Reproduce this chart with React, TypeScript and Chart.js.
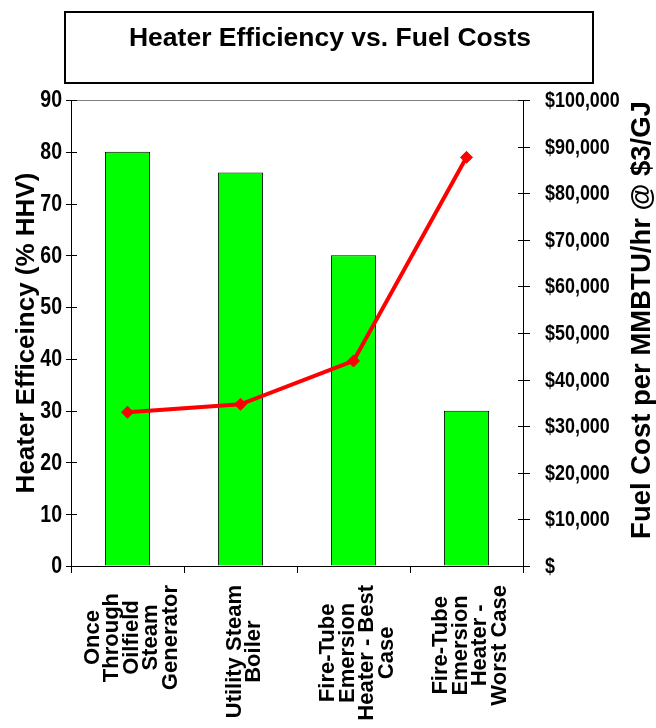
import React, { useEffect, useRef } from 'react';
import { Chart, registerables } from 'chart.js';

Chart.register(...registerables);

const title = 'Heater Efficiency vs. Fuel Costs';
const leftAxisTitle = 'Heater Efficeincy (% HHV)';
const rightAxisTitle = 'Fuel Cost per MMBTU/hr @ $3/GJ';

const categories: string[][] = [
  ['Once', 'Through', 'Oilfield', 'Steam', 'Generator'],
  ['Utility Steam', 'Boiler'],
  ['Fire-Tube', 'Emersion', 'Heater - Best', 'Case'],
  ['Fire-Tube', 'Emersion', 'Heater -', 'Worst Case'],
];
const efficiency = [80, 76, 60, 30];
const fuelCost = [33000, 34700, 44000, 87700];

const effMin = 0;
const effMax = 90;
const effStep = 10;
const costMin = 0;
const costMax = 100000;
const costStep = 10000;

const SANS = "'Liberation Sans', Arial, Helvetica, sans-serif";

const costLabel = (v: number) => (v === 0 ? '$' : '$' + v.toLocaleString('en-US'));

const decorPlugin = {
  id: 'decor',
  afterDraw(chart: any) {
    const ctx = chart.ctx as CanvasRenderingContext2D;
    const { chartArea } = chart;
    const xs = chart.scales.x;
    const yl = chart.scales.y;
    const yr = chart.scales.y1;
    ctx.save();

    // title box
    ctx.strokeStyle = '#000';
    ctx.lineWidth = 2;
    ctx.strokeRect(65, 12, 528, 71);
    ctx.fillStyle = '#000';
    ctx.font = `bold 26.5px ${SANS}`;
    ctx.textAlign = 'center';
    ctx.textBaseline = 'middle';
    ctx.fillText(title, 330, 39);

    // top border line (gray)
    ctx.strokeStyle = '#808080';
    ctx.lineWidth = 1;
    ctx.beginPath();
    ctx.moveTo(chartArea.left, chartArea.top + 0.5);
    ctx.lineTo(chartArea.right, chartArea.top + 0.5);
    ctx.stroke();

    // crossing tick marks
    ctx.strokeStyle = '#000';
    ctx.beginPath();
    for (let v = effMin; v <= effMax; v += effStep) {
      const y = Math.round(yl.getPixelForValue(v)) + 0.5;
      ctx.moveTo(chartArea.left - 5, y);
      ctx.lineTo(chartArea.left + 6, y);
    }
    for (let v = costMin; v <= costMax; v += costStep) {
      const y = Math.round(yr.getPixelForValue(v)) + 0.5;
      ctx.moveTo(chartArea.right - 5, y);
      ctx.lineTo(chartArea.right + 7, y);
    }
    const n = categories.length;
    const w = (chartArea.right - chartArea.left) / n;
    for (let i = 0; i <= n; i++) {
      const x = Math.round(chartArea.left + i * w) + 0.5;
      ctx.moveTo(x, chartArea.bottom);
      ctx.lineTo(x, chartArea.bottom + 7);
    }
    ctx.stroke();

    // condensed tick labels
    ctx.fillStyle = '#000';
    ctx.textBaseline = 'middle';
    ctx.font = `bold 23px ${SANS}`;
    for (let v = effMin; v <= effMax; v += effStep) {
      const y = yl.getPixelForValue(v) + 1;
      ctx.save();
      ctx.translate(62, y);
      ctx.scale(0.85, 1);
      ctx.textAlign = 'right';
      ctx.fillText(String(v), 0, 0);
      ctx.restore();
    }
    ctx.font = `bold 22px ${SANS}`;
    for (let v = costMin; v <= costMax; v += costStep) {
      const y = yr.getPixelForValue(v) + 1;
      ctx.save();
      ctx.translate(545, y);
      ctx.scale(0.815, 1);
      ctx.textAlign = 'left';
      ctx.fillText(costLabel(v), 0, 0);
      ctx.restore();
    }

    // category labels (rotated, centered lines)
    ctx.font = `bold 22px ${SANS}`;
    const lh = 19.5;
    categories.forEach((lines, i) => {
      const cx = xs.getPixelForValue(i) + 4;
      const maxW = Math.max(...lines.map((l) => ctx.measureText(l).width));
      const cy = 585 + maxW / 2;
      ctx.save();
      ctx.translate(cx, cy);
      ctx.rotate(-Math.PI / 2);
      ctx.textAlign = 'center';
      ctx.textBaseline = 'middle';
      lines.forEach((l, j) => {
        ctx.fillText(l, 0, (j - (lines.length - 1) / 2) * lh);
      });
      ctx.restore();
    });

    // left axis title
    ctx.save();
    ctx.font = `bold 26px ${SANS}`;
    ctx.translate(27, 333);
    ctx.rotate(-Math.PI / 2);
    ctx.textAlign = 'center';
    ctx.textBaseline = 'middle';
    ctx.fillText(leftAxisTitle, 0, 0);
    ctx.restore();

    // right axis title
    ctx.save();
    ctx.font = `bold 27.5px ${SANS}`;
    ctx.translate(642, 320);
    ctx.rotate(-Math.PI / 2);
    ctx.textAlign = 'center';
    ctx.textBaseline = 'middle';
    ctx.fillText(rightAxisTitle, 0, 0);
    ctx.restore();

    ctx.restore();
  },
};

export default function App() {
  const ref = useRef<HTMLCanvasElement | null>(null);

  useEffect(() => {
    document.body.style.margin = '0';
    const canvas = ref.current;
    if (!canvas) return;
    const chart = new Chart(canvas, {
      type: 'bar',
      data: {
        labels: categories.map((c) => c.join(' ')),
        datasets: [
          {
            type: 'line',
            label: 'Fuel Cost',
            data: fuelCost,
            yAxisID: 'y1',
            borderColor: '#ff0000',
            backgroundColor: '#ff0000',
            borderWidth: 4,
            pointStyle: 'rectRot',
            pointRadius: 6,
            pointBackgroundColor: '#ff0000',
            pointBorderColor: '#ff0000',
            pointBorderWidth: 1,
            tension: 0,
            order: 0,
          } as any,
          {
            type: 'bar',
            label: 'Efficiency',
            data: efficiency,
            yAxisID: 'y',
            backgroundColor: '#00ff00',
            borderColor: '#000000',
            borderWidth: 1,
            barPercentage: 0.4,
            categoryPercentage: 1.0,
            order: 1,
          } as any,
        ],
      },
      options: {
        responsive: false,
        animation: false,
        devicePixelRatio: 1,
        layout: { padding: { top: 100, left: 0, right: 0, bottom: 0 } },
        plugins: {
          legend: { display: false },
          tooltip: { enabled: false },
          title: { display: false },
        },
        scales: {
          x: {
            type: 'category',
            offset: true,
            grid: { display: true, drawOnChartArea: false, drawTicks: false, offset: true },
            border: { display: true, color: '#000', width: 1 },
            ticks: { display: false },
            afterFit: (s: any) => {
              s.height = 162;
            },
          },
          y: {
            position: 'left',
            min: effMin,
            max: effMax,
            grid: { drawOnChartArea: false, drawTicks: false },
            border: { display: true, color: '#000', width: 1 },
            ticks: { stepSize: effStep, display: false },
            afterFit: (s: any) => {
              s.width = 71;
            },
          },
          y1: {
            position: 'right',
            min: costMin,
            max: costMax,
            grid: { drawOnChartArea: false, drawTicks: false },
            border: { display: true, color: '#000', width: 1 },
            ticks: { stepSize: costStep, display: false },
            afterFit: (s: any) => {
              s.width = 133;
            },
          },
        },
      } as any,
      plugins: [decorPlugin],
    });
    return () => chart.destroy();
  }, []);

  return (
    <div style={{ width: 656, height: 728, background: '#fff' }}>
      <canvas ref={ref} width={656} height={728} style={{ display: 'block' }} />
    </div>
  );
}
